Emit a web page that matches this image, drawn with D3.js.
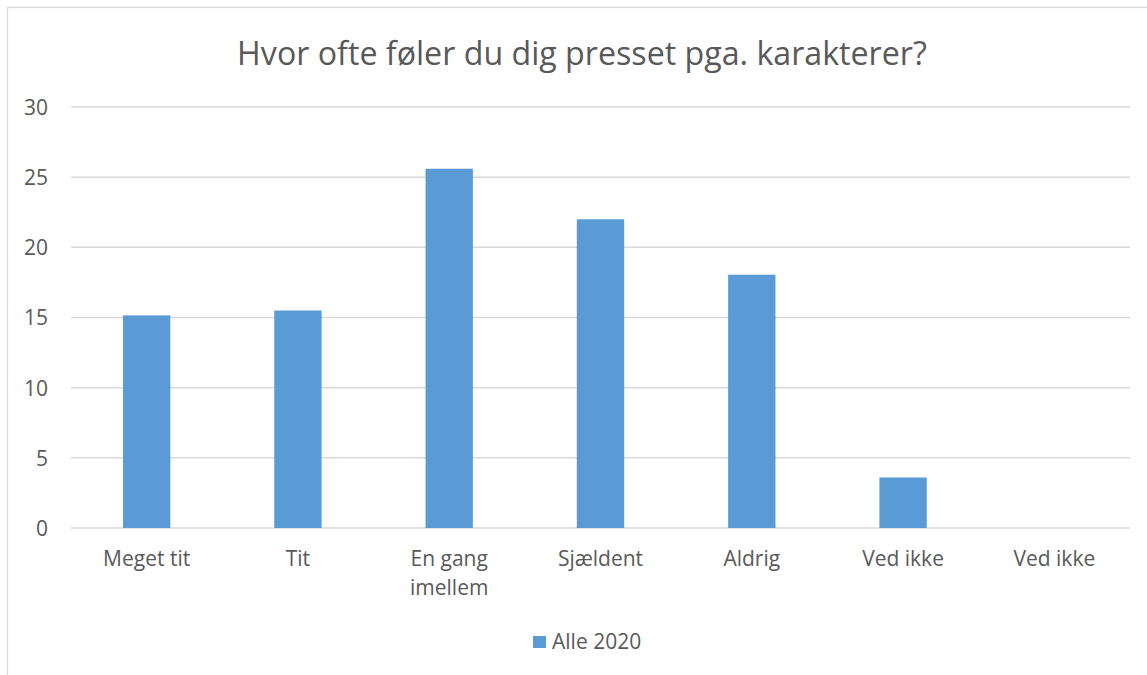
<!DOCTYPE html>
<html>
<head>
<meta charset="utf-8">
<title>Hvor ofte føler du dig presset pga. karakterer?</title>
<script src="https://cdn.jsdelivr.net/npm/d3@7/dist/d3.min.js"></script>
<style>
body { margin: 0; background: #fff; }
svg text { font-family: "Open Sans", "Liberation Sans", sans-serif; fill: #595959; }
</style>
</head>
<body>
<svg id="chart" width="1147" height="675"></svg>
<script>
// data
var categories = ['Meget tit', 'Tit', 'En gang imellem', 'Sjældent', 'Aldrig', 'Ved ikke', 'Ved ikke '];
var values = [15.15, 15.5, 25.6, 22.0, 18.05, 3.6, 0];
var yTicks = [0, 5, 10, 15, 20, 25, 30];
var seriesName = 'Alle 2020';
var title = 'Hvor ofte føler du dig presset pga. karakterer?';

var svg = d3.select('#chart');
var plot = { left: 71, right: 1130, top: 107, bottom: 528 };
var fs = 21;

// outer chart frame
svg.append('rect')
  .attr('x', 7.5).attr('y', 7.5)
  .attr('width', 1160).attr('height', 700)
  .attr('fill', 'none').attr('stroke', '#d9d9d9').attr('stroke-width', 1.2);

var x = d3.scaleBand().domain(categories).range([plot.left, plot.right]).padding(0);
var y = d3.scaleLinear().domain([0, 30]).range([plot.bottom, plot.top]);
var barW = x.bandwidth() * 0.313;

// gridlines
svg.append('g').selectAll('line').data(yTicks).join('line')
  .attr('x1', plot.left).attr('x2', plot.right)
  .attr('y1', function(d) { return y(d); }).attr('y2', function(d) { return y(d); })
  .attr('stroke', '#d9d9d9').attr('stroke-width', 1.5);

// y labels
var yAxis = d3.axisLeft(y).tickValues(yTicks).tickSize(0).tickPadding(0);
var ya = svg.append('g').attr('transform', 'translate(48,0)').call(yAxis);
ya.select('.domain').remove();
ya.selectAll('text').attr('font-size', fs).attr('fill', '#595959')
  .style('font-family', '"Open Sans", sans-serif').attr('dy', '0.35em');

// bars
svg.append('g').selectAll('rect').data(values).join('rect')
  .attr('x', function(d, i) { return x(categories[i]) + x.bandwidth() / 2 - barW / 2; })
  .attr('width', barW)
  .attr('y', function(d) { return y(d); })
  .attr('height', function(d) { return y(0) - y(d); })
  .attr('fill', '#5b9bd5');

// x labels, wrapped like the original
var wrap = { 'En gang imellem': ['En gang', 'imellem'] };
var xl = svg.append('g').selectAll('text').data(categories).join('text')
  .attr('x', function(d) { return x(d) + x.bandwidth() / 2; })
  .attr('y', 566)
  .attr('text-anchor', 'middle')
  .attr('font-size', fs);
xl.each(function(d) {
  var lines = wrap[d] || [d.trim()];
  var t = d3.select(this);
  lines.forEach(function(l, i) {
    t.append('tspan').attr('x', x(d) + x.bandwidth() / 2).attr('dy', i === 0 ? 0 : 29).text(l);
  });
});

// title, sized to the width of the original
var tt = svg.append('text')
  .attr('x', 582).attr('y', 65)
  .attr('text-anchor', 'middle')
  .attr('font-size', 30)
  .text(title);
var tw = tt.node().getComputedTextLength();
tt.attr('font-size', 30 * 690 / tw);

// legend
var lg = svg.append('g');
lg.append('rect').attr('x', 533).attr('y', 636).attr('width', 13).attr('height', 12).attr('fill', '#5b9bd5');
lg.append('text').attr('x', 552).attr('y', 649).attr('font-size', fs).text(seriesName);
</script>
</body>
</html>
